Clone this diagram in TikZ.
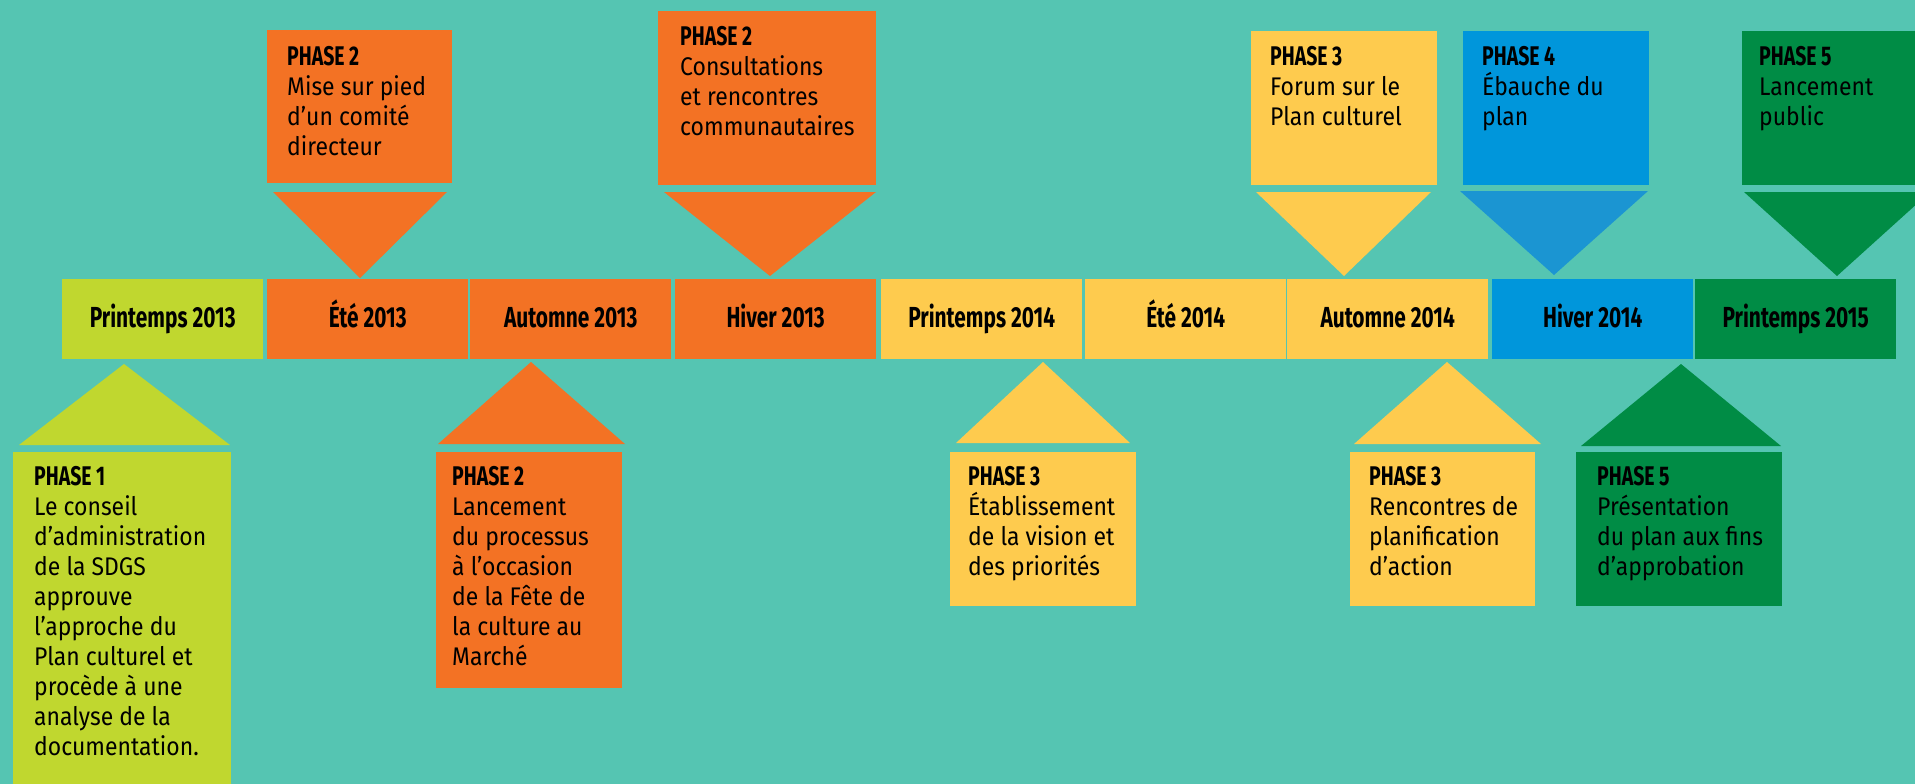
\documentclass[tikz,border=0pt]{standalone}
\usepackage{fontspec}
\setmainfont{Fira Sans}[FakeStretch=0.9]
\newfontfamily\condbold{Fira Sans}[FakeStretch=0.72]
\definecolor{cBg}{HTML}{55C5B2}
\definecolor{cLime}{HTML}{C0D72F}
\definecolor{cOrange}{HTML}{F37224}
\definecolor{cYellow}{HTML}{FECB4E}
\definecolor{cBlue}{HTML}{0096DB}
\definecolor{cBlueTri}{HTML}{1B95D2}
\definecolor{cGreen}{HTML}{008C45}
\tikzset{
  barbox/.style={minimum width=201pt, minimum height=80pt, inner sep=0pt, anchor=north west,
    text height=16pt, text depth=0pt, text=black,
    font=\condbold\bfseries\fontsize{29}{30}\selectfont},
  callbox/.style={inner sep=0pt, anchor=north west},
  calltext/.style={inner sep=0pt, anchor=north west, align=left, text=black,
    font=\fontsize{25.5}{30}\selectfont},
}
\newcommand{\phasehead}[1]{{\condbold\bfseries\fontsize{27}{30}\selectfont #1}}
\begin{document}
\begin{tikzpicture}[x=1pt,y=-1pt]
\fill[cBg] (0,0) rectangle (1915,784);
\useasboundingbox (0,0) rectangle (1915,784);
\clip (0,0) rectangle (1915,784);

% timeline bar
\node[barbox, fill=cLime]   (b1) at (62,279)   {Printemps 2013};
\node[barbox, fill=cOrange] (b2) at (267,279)  {Été 2013};
\node[barbox, fill=cOrange] (b3) at (470,279)  {Automne 2013};
\node[barbox, fill=cOrange] (b4) at (675,279)  {Hiver 2013};
\node[barbox, fill=cYellow] (b5) at (881,279)  {Printemps 2014};
\node[barbox, fill=cYellow] (b6) at (1085,279) {Été 2014};
\node[barbox, fill=cYellow] (b7) at (1287,279) {Automne 2014};
\node[barbox, fill=cBlue]   (b8) at (1492,279) {Hiver 2014};
\node[barbox, fill=cGreen]  (b9) at (1695,279) {Printemps 2015};

% top callouts
\node[callbox, fill=cOrange, minimum width=185pt, minimum height=153pt] (t1) at (267,30) {};
\fill[cOrange] (273,192) -- (447,192) -- (360,278) -- cycle;
\node[calltext] (t1txt) at (287,46) {\phasehead{PHASE 2}\\Mise sur pied\\d’un comité\\directeur};

\node[callbox, fill=cOrange, minimum width=218pt, minimum height=174pt] (t2) at (658,11) {};
\fill[cOrange] (664,192) -- (876,192) -- (770,276) -- cycle;
\node[calltext] (t2txt) at (680,26) {\phasehead{PHASE 2}\\Consultations\\et rencontres\\communautaires};

\node[callbox, fill=cYellow, minimum width=186pt, minimum height=154pt] (t3) at (1251,31) {};
\fill[cYellow] (1256,192) -- (1431,192) -- (1344,276) -- cycle;
\node[calltext] (t3txt) at (1270,46) {\phasehead{PHASE 3}\\Forum sur le\\Plan culturel};

\node[callbox, fill=cBlue, minimum width=186pt, minimum height=154pt] (t4) at (1463,31) {};
\fill[cBlueTri] (1460,191) -- (1648,191) -- (1554,275) -- cycle;
\node[calltext] (t4txt) at (1482,46) {\phasehead{PHASE 4}\\Ébauche du\\plan};

\node[callbox, fill=cGreen, minimum width=186pt, minimum height=154pt] (t5) at (1742,31) {};
\fill[cGreen] (1744,192) -- (1930,192) -- (1837,276) -- cycle;
\node[calltext] (t5txt) at (1759,46) {\phasehead{PHASE 5}\\Lancement\\public};

% bottom callouts
\fill[cLime] (19,445) -- (230,445) -- (124,364) -- cycle;
\node[callbox, fill=cLime, minimum width=218pt, minimum height=340pt] (u1) at (13,452) {};
\node[calltext] (u1txt) at (34,466) {\phasehead{PHASE 1}\\Le conseil\\d’administration\\de la SDGS\\approuve\\l’approche du\\Plan culturel et\\procède à une\\analyse de la\\documentation.};

\fill[cOrange] (438,444) -- (625,444) -- (531,362) -- cycle;
\node[callbox, fill=cOrange, minimum width=186pt, minimum height=236pt] (u2) at (436,452) {};
\node[calltext] (u2txt) at (452,466) {\phasehead{PHASE 2}\\Lancement\\du processus\\à l’occasion\\de la Fête de\\la culture au\\Marché};

\fill[cYellow] (956,443) -- (1130,443) -- (1043,362) -- cycle;
\node[callbox, fill=cYellow, minimum width=186pt, minimum height=154pt] (u3) at (950,452) {};
\node[calltext] (u3txt) at (968,466) {\phasehead{PHASE 3}\\Établissement\\de la vision et\\des priorités};

\fill[cYellow] (1354,444) -- (1541,444) -- (1447,362) -- cycle;
\node[callbox, fill=cYellow, minimum width=185pt, minimum height=154pt] (u4) at (1350,452) {};
\node[calltext] (u4txt) at (1369,466) {\phasehead{PHASE 3}\\Rencontres de\\planification\\d’action};

\fill[cGreen] (1581,446) -- (1781,446) -- (1681,364) -- cycle;
\node[callbox, fill=cGreen, minimum width=206pt, minimum height=154pt] (u5) at (1576,452) {};
\node[calltext] (u5txt) at (1597,466) {\phasehead{PHASE 5}\\Présentation\\du plan aux fins\\d’approbation};
\end{tikzpicture}
\end{document}
